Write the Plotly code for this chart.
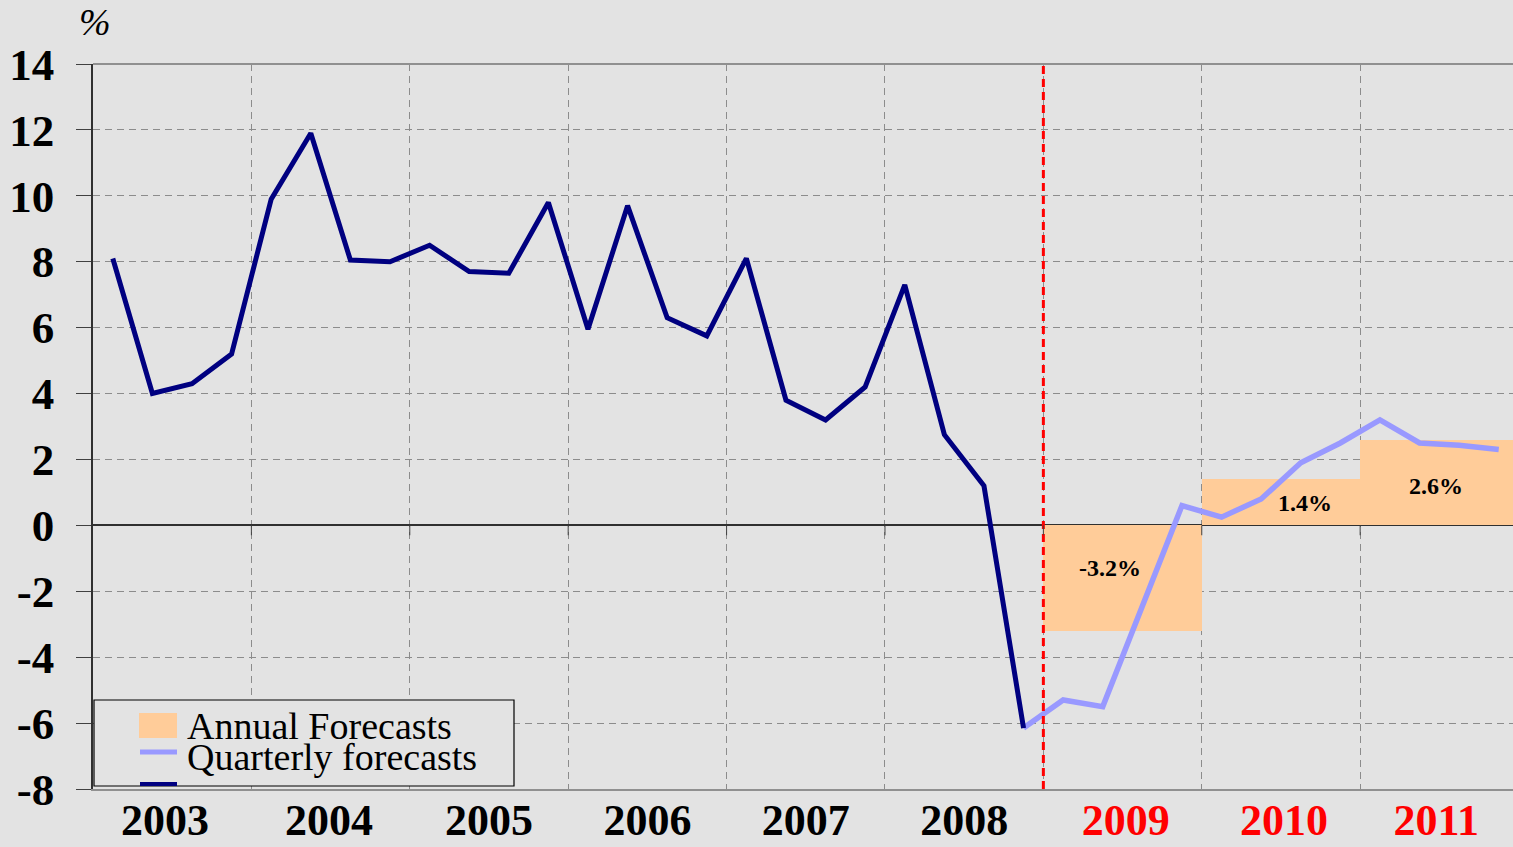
import plotly.graph_objects as go

# ---------------- data ----------------
years = [2003, 2004, 2005, 2006, 2007, 2008, 2009, 2010, 2011]
forecast_years = [2009, 2010, 2011]
year_label_pos = [2003.455, 2004.49, 2005.5, 2006.5, 2007.5, 2008.5, 2009.52, 2010.52, 2011.48]

# quarterly growth, actual (2003Q1 .. 2008Q4)
actual = [8.1, 4.0, 4.3, 5.2,
          9.9, 11.9, 8.05, 8.0,
          8.5, 7.7, 7.65, 9.8,
          5.95, 9.7, 6.3, 5.75,
          8.1, 3.8, 3.2, 4.2,
          7.3, 2.75, 1.2, -6.15]
# quarterly forecasts (2009Q1 .. 2011Q4)
quarterly_fc = [-5.3, -5.5, -2.45, 0.6,
                0.25, 0.8, 1.9, 2.5,
                3.2, 2.5, 2.43, 2.3]
# annual forecasts
annual_fc = [-3.2, 1.4, 2.6]
annual_labels = ["-3.2%", "1.4%", "2.6%"]
annual_label_y = [-1.3, 0.67, 1.2]
annual_label_x = [2009.42, 2010.65, 2011.48]

y_ticks = [14, 12, 10, 8, 6, 4, 2, 0, -2, -4, -6, -8]
y_ticktext = [str(v) for v in y_ticks]

# ---------------- derived positions ----------------
def qx(year, q):
    return year + (q - 0.5) / 4.0

actual_x = [qx(y, q) for y in years[:6] for q in range(1, 5)]
fc_x = [qx(y, q) for y in forecast_years for q in range(1, 5)]
# forecast line starts from the last actual point
fc_line_x = [actual_x[-1]] + fc_x
fc_line_y = [actual[-1]] + quarterly_fc

BG = "#E3E3E3"
SERIF = "Liberation Serif, Times New Roman, serif"

fig = go.Figure()

fig.add_trace(go.Bar(
    x=[y + 0.5 for y in forecast_years], y=annual_fc, width=1.0,
    marker=dict(color="#FFCC99", line=dict(width=0)),
    name="Annual Forecasts", showlegend=False, hoverinfo="skip"))

fig.add_trace(go.Scatter(
    x=fc_line_x, y=fc_line_y, mode="lines",
    line=dict(color="#9999FF", width=5.5),
    name="Quarterly forecasts", showlegend=False))

fig.add_trace(go.Scatter(
    x=actual_x, y=actual, mode="lines",
    line=dict(color="#000080", width=5),
    name="Actual", showlegend=False))

# annual forecast labels
for xl, yl, t in zip(annual_label_x, annual_label_y, annual_labels):
    fig.add_annotation(x=xl, y=yl, text=t, showarrow=False,
                       font=dict(family=SERIF, size=24, color="black", weight="bold"))

# red dashed forecast start line
fig.add_shape(type="line", xref="x", yref="paper",
              x0=forecast_years[0], x1=forecast_years[0], y0=0, y1=1,
              line=dict(color="#FF0000", width=3, dash="8px,5px"), layer="above")

# small ticks on the zero line at year boundaries
for y in years[1:]:
    fig.add_shape(type="line", xref="x", yref="y", x0=y, x1=y, y0=0, y1=-0.3,
                  line=dict(color="#404040", width=1), layer="above")

# top border
fig.add_shape(type="line", xref="paper", yref="paper", x0=0, x1=1, y0=1, y1=1,
              line=dict(color="#909090", width=2))

# year tick texts
x_ticktext = [(f'<span style="color:#FF0000">{y}</span>' if y in forecast_years else str(y))
              for y in years]

fig.update_layout(
    width=1513, height=847,
    margin=dict(l=93, r=0, t=64, b=58),
    paper_bgcolor=BG, plot_bgcolor=BG,
    showlegend=False,
    bargap=0,
    xaxis=dict(
        range=[2003, 2003 + 8.965], automargin=False,
        tickmode="array", tickvals=year_label_pos, ticktext=x_ticktext,
        ticks="", showgrid=False, zeroline=False,
        showline=True, linecolor="#909090", linewidth=2,
        tickfont=dict(family=SERIF, size=44, color="black", weight="bold"),
        ticklabelstandoff=-9,
        minor=dict(tickmode="linear", tick0=2003, dtick=1, showgrid=True,
                   gridcolor="#8C8C8C", gridwidth=1, griddash="7px,5px", ticks=""),
    ),
    yaxis=dict(
        range=[-8, 14], automargin=False,
        tickmode="array", tickvals=y_ticks, ticktext=y_ticktext,
        ticks="outside", ticklen=15, tickcolor="#404040", tickwidth=1,
        showgrid=True, gridcolor="#8C8C8C", gridwidth=1, griddash="7px,5px",
        zeroline=True, zerolinecolor="#303030", zerolinewidth=1.5,
        showline=True, linecolor="#303030", linewidth=1.5,
        tickfont=dict(family=SERIF, size=45, color="black", weight="bold"),
        ticklabelstandoff=13,
    ),
)

# "%" unit label
fig.add_annotation(xref="paper", yref="paper", x=0.0014, y=1.058, text="%",
                   showarrow=False, xanchor="center", yanchor="middle",
                   font=dict(family=SERIF, size=38, color="black", style="italic"))

# ---------------- manual legend ----------------
def px_x(p):
    return (p - 93) / 1420.0

def px_y(p):
    return (789 - p) / 725.0

fig.add_shape(type="rect", xref="paper", yref="paper",
              x0=px_x(94), x1=px_x(514), y0=px_y(786), y1=px_y(700),
              fillcolor=BG, line=dict(color="black", width=1.2), layer="above")
fig.add_shape(type="rect", xref="paper", yref="paper",
              x0=px_x(139), x1=px_x(177), y0=px_y(738), y1=px_y(713),
              fillcolor="#FFCC99", line=dict(width=0), layer="above")
fig.add_shape(type="line", xref="paper", yref="paper",
              x0=px_x(140), x1=px_x(177), y0=px_y(752), y1=px_y(752),
              line=dict(color="#9999FF", width=5), layer="above")
fig.add_shape(type="line", xref="paper", yref="paper",
              x0=px_x(140), x1=px_x(177), y0=px_y(784), y1=px_y(784),
              line=dict(color="#000080", width=4), layer="above")
fig.add_annotation(xref="paper", yref="paper", x=px_x(185), y=px_y(726),
                   text="Annual Forecasts", showarrow=False,
                   xanchor="left", yanchor="middle",
                   font=dict(family=SERIF, size=38, color="black"))
fig.add_annotation(xref="paper", yref="paper", x=px_x(185), y=px_y(757),
                   text="Quarterly forecasts", showarrow=False,
                   xanchor="left", yanchor="middle",
                   font=dict(family=SERIF, size=38, color="black"))

fig.write_html("out.html", config={"displayModeBar": False},
               post_script="document.body.style.margin='0';document.body.style.overflow='hidden';")
